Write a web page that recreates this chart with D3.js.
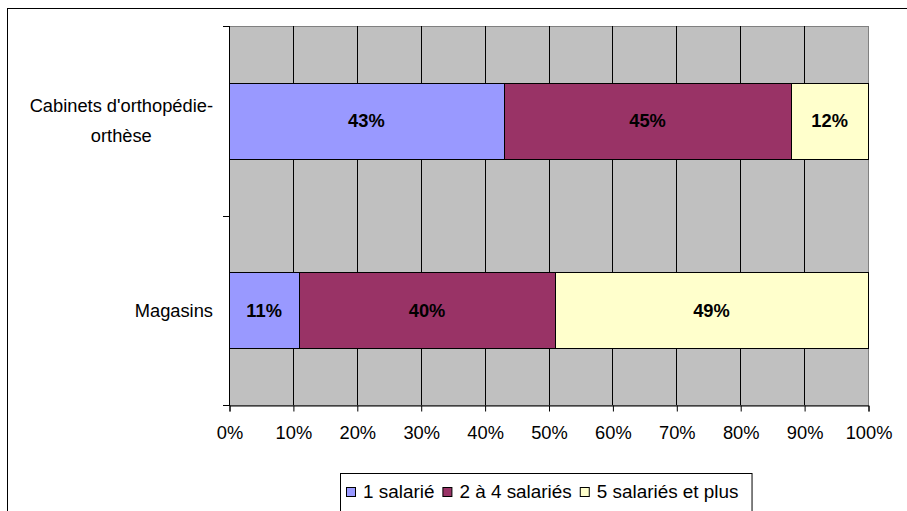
<!DOCTYPE html>
<html><head><meta charset="utf-8">
<script src="https://cdn.jsdelivr.net/npm/d3@7"></script>
<style>body{margin:0;background:#fff}svg{display:block;font-family:"Liberation Sans",Arial,sans-serif}</style>
</head><body>
<svg id="c" width="907" height="511"></svg>
<script>
const categories = [["Cabinets d'orthopédie-", "orthèse"], ["Magasins"]];
const seriesNames = ["1 salarié", "2 à 4 salariés", "5 salariés et plus"];
const seriesColors = ["#9999FF", "#993366", "#FFFFCC"];
const s1 = [43, 11];
const s2 = [45, 40];
const s3 = [12, 49];
const xTicks = [0,10,20,30,40,50,60,70,80,90,100];

const FS = "18.3px";
const svg = d3.select("#c");
const L = 229, R = 868, T = 26, B = 405;
const x = d3.scaleLinear().domain([0,100]).range([L,R]);
const y = d3.scaleBand().domain(d3.range(categories.length)).range([T,B]).paddingInner(0.6).paddingOuter(0.3);
const yb = d3.scaleBand().domain(d3.range(categories.length)).range([T,B]);

// outer border
svg.append("rect").attr("x",7.5).attr("y",8.5).attr("width",1000).attr("height",1000).attr("fill","none").attr("stroke","#000");

// plot background
svg.append("rect").attr("x",L).attr("y",T).attr("width",R-L).attr("height",B-T).attr("fill","#C0C0C0").attr("stroke","#808080").attr("stroke-width",1)
  .attr("transform","translate(0.5,0.5)");

// gridlines
svg.append("g").selectAll("line").data(xTicks.filter(t=>t>0 && t<100)).join("line")
  .attr("x1",d=>Math.round(x(d))+0.5).attr("x2",d=>Math.round(x(d))+0.5).attr("y1",T).attr("y2",B).attr("stroke","#000");

// bars
const series = [s1,s2,s3];
const stack = categories.map((c,i)=>{let acc=0;return series.map((s,k)=>{const o={cat:i,k,v:s[i],x0:acc,x1:acc+s[i]};acc+=s[i];return o;});}).flat();
svg.append("g").selectAll("rect").data(stack).join("rect")
  .attr("x",d=>Math.round(x(d.x0))+0.5).attr("width",d=>Math.round(x(d.x1))-Math.round(x(d.x0)))
  .attr("y",d=>Math.round(y(d.cat))+0.5).attr("height",Math.round(y.bandwidth()))
  .attr("fill",d=>seriesColors[d.k]).attr("stroke","#000");
svg.append("g").selectAll("text").data(stack).join("text")
  .attr("x",d=>x((d.x0+d.x1)/2)).attr("y",d=>y(d.cat)+y.bandwidth()/2)
  .attr("text-anchor","middle").attr("dominant-baseline","central")
  .attr("font-size",FS).attr("font-weight","bold").text(d=>d.v+"%");

// x axis
const xa = svg.append("g").attr("transform",`translate(0.5,${B+0.5})`)
  .call(d3.axisBottom(x).tickValues(xTicks).tickFormat(d=>d+"%").tickSize(6).tickPadding(15));
xa.select(".domain").attr("stroke","#000");
xa.selectAll("line").attr("stroke","#000");
xa.selectAll("text").attr("font-size",FS).attr("fill","#000").attr("font-family","Liberation Sans, Arial, sans-serif");

// y axis line + ticks
svg.append("line").attr("x1",L+0.5).attr("x2",L+0.5).attr("y1",T).attr("y2",B+1).attr("stroke","#000");
svg.append("g").selectAll("line").data([T, yb(1), B]).join("line")
  .attr("x1",L-6).attr("x2",L).attr("y1",d=>Math.round(d)+0.5).attr("y2",d=>Math.round(d)+0.5).attr("stroke","#000");

// category labels
categories.forEach((lines,i)=>{
  const g = svg.append("g");
  const cy = y(i)+y.bandwidth()/2;
  const lh = 30;
  const ts = lines.map((ln,j)=>g.append("text").attr("font-size",FS).attr("text-anchor","middle")
    .attr("dominant-baseline","central").attr("y",cy+(j-(lines.length-1)/2)*lh).text(ln));
  const w = d3.max(ts,t=>t.node().getComputedTextLength());
  ts.forEach(t=>t.attr("x",213-w/2));
});

// legend
const lg = svg.append("g");
const lbox = lg.append("rect").attr("y",473.5).attr("height",40).attr("fill","#fff").attr("stroke","#000");
let cx = 346;
seriesNames.forEach((n,k)=>{
  lg.append("rect").attr("x",cx+0.5).attr("y",487.5).attr("width",9).attr("height",9).attr("fill",seriesColors[k]).attr("stroke","#000");
  const t = lg.append("text").attr("x",cx+17).attr("y",491).attr("dominant-baseline","central").attr("font-size","18.9px").text(n);
  cx = cx+17+t.node().getComputedTextLength()+8;
});
lbox.attr("x",340.5).attr("width",cx-340+5);
</script>
</body></html>
